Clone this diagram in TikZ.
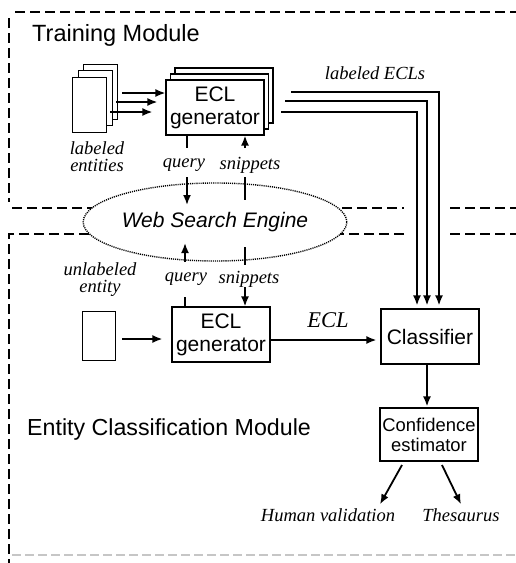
\documentclass[tikz,border=0pt]{standalone}
\usepackage{fontspec}
\setmainfont{Liberation Serif}
\setsansfont{Liberation Sans}
\usetikzlibrary{arrows.meta,shapes.geometric}
\begin{document}
\begin{tikzpicture}[x=1pt,y=-1pt,
 box/.style={draw, line width=1.1pt, fill=white, minimum width=98pt, minimum height=55pt, inner sep=0pt, align=center, font=\sffamily\fontsize{21}{23}\selectfont},
 page/.style={draw, line width=1pt, fill=white, minimum width=34pt, minimum height=55pt, inner sep=0pt},
 arr/.style={line width=1.8pt, -{Latex[length=10pt,width=8pt]}},
 ln/.style={line width=1.8pt},
 it/.style={font=\itshape\fontsize{18.5}{17}\selectfont, inner sep=0pt, align=center},
 modline/.style={line width=1.6pt, dash pattern=on 10pt off 5pt},
]
\useasboundingbox (0,0) rectangle (516,563);

% module borders
\draw[modline] (15,12) -- (516,12);
\draw[modline] (9,18) -- (9,202);
\draw[modline] (12,208) -- (404,208);
\draw[modline] (450,208) -- (516,208);
\draw[modline] (404,234) -- (9,234) -- (9,563);
\draw[modline] (450,234) -- (516,234);
\draw[line width=1.2pt, gray!45, dash pattern=on 9pt off 4pt] (12,555) -- (516,555);

% titles
\node[anchor=base west, inner sep=0pt, font=\sffamily\fontsize{23.5}{26}\selectfont] (tm) at (32,41) {Training Module};
\node[anchor=base west, inner sep=0pt, font=\sffamily\fontsize{23.2}{26}\selectfont] (ecm) at (27,435) {Entity Classification Module};

% labeled entity pages
\node[page] (pgC) at (100,91.5) {};
\node[page] (pgB) at (95,97.5) {};
\node[page] (pgA) at (89,104.5) {};
\node[it] (le) at (97,157) {labeled\\entities};

% training ECL generator stack
\node[box] (gC) at (224,95.5) {};
\node[box] (gB) at (219.5,101.5) {};
\node[box] (gA) at (215,107.5) {ECL\\generator};

% page -> generator arrows
\coordinate (pa1) at (122,93);
\coordinate (pa2) at (116,102);
\coordinate (pa3) at (110,112);
\draw[arr] (pa1) -- (pa1 -| gA.west);
\draw[arr] (pa2) -- ([xshift=-8pt]pa2 -| gA.west);
\draw[arr] (pa3) -- ([xshift=-13pt]pa3 -| gA.west);

% web search engine
\node[draw, ellipse, fill=white, line width=1.4pt, dash pattern=on 1.1pt off 1pt,
      minimum width=224pt, minimum height=78pt, inner sep=0pt,
      font=\sffamily\itshape\fontsize{21}{23}\selectfont] (wse) at (215,222) {Web Search Engine};

% training query / snippets
\node[it] (q1) at (184,165) {query};
\node[it] (s1) at (250,165) {snippets};
\coordinate (q1a) at (187,148);
\coordinate (q1b) at (187,177);
\coordinate (q1c) at (187,205);
\coordinate (s1a) at (245,148);
\coordinate (s1b) at (245,177);
\coordinate (s1c) at (245,200);
\draw[ln] (q1a |- gA.south) -- (q1a);
\draw[arr] (q1b) -- (q1c);
\draw[arr] (s1a) -- (s1a |- gA.south);
\draw[ln] (s1b) -- (s1c);

% lower part
\node[page, minimum width=33pt, minimum height=49pt] (pgL) at (98.5,335.5) {};
\node[it] (ue) at (100,280) {unlabeled\\entity};
\node[box] (gL) at (221,334.5) {ECL\\generator};
\coordinate (pl) at (122,339);
\draw[arr] (pl) -- ([xshift=-9pt]pl -| gL.west);

\node[it] (q2) at (186,279) {query};
\node[it] (s2) at (249,279) {snippets};
\coordinate (q2a) at (185,262);
\coordinate (q2b) at (185,243);
\coordinate (q2c) at (185,297);
\coordinate (s2a) at (245,247);
\coordinate (s2b) at (245,265);
\coordinate (s2c) at (245,287);
\draw[arr] (q2a) -- (q2b);
\draw[ln] (q2c) -- (q2c |- gL.north);
\draw[ln] (s2a) -- (s2b);
\draw[arr] (s2c) -- (s2c |- gL.north);

% classifier
\node[box] (cls) at (430,336.5) {Classifier};
\coordinate (ec) at (270,340);
\draw[arr] (ec) -- ([xshift=-4pt]ec -| cls.west);
\node[inner sep=0pt, font=\itshape\fontsize{22.5}{24}\selectfont] (eclt) at (328,320.5) {ECL};

% labeled ECLs
\node[it] (lecl) at (375,73) {labeled ECLs};
\coordinate (la1) at (291,92);
\coordinate (la2) at (285,101);
\coordinate (la3) at (281,112);
\draw[arr] (la1) -| ([xshift=9pt,yshift=3pt]cls.north);
\draw[arr] (la2) -| ([xshift=-3pt,yshift=3pt]cls.north);
\draw[arr] (la3) -| ([xshift=-13pt,yshift=3pt]cls.north);

% confidence estimator
\node[box, minimum height=53pt, font=\sffamily\fontsize{18.4}{20}\selectfont] (conf) at (429,434.5) {Confidence\\estimator};
\draw[arr] ([xshift=-3pt]cls.south) -- ([xshift=-2pt,yshift=1pt]conf.north);

\node[it] (hv) at (328,515) {Human validation};
\node[it] (th) at (461,515) {Thesaurus};
\coordinate (c1) at (402,465);
\coordinate (c2) at (442,465);
\draw[arr] (c1) -- ([xshift=52pt,yshift=4pt]hv.north);
\draw[arr] (c2) -- ([yshift=4pt]th.north);
\end{tikzpicture}
\end{document}
